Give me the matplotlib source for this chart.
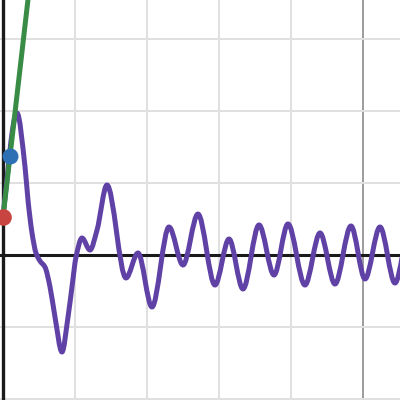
import numpy as np
import matplotlib
matplotlib.use("Agg")
import matplotlib.pyplot as plt
from matplotlib.path import Path
from matplotlib.patches import PathPatch

# ---- data (graph units) ----
curve_x = [0.000, 0.194, 0.306, 0.347, 0.403, 0.458, 0.514, 0.583, 0.653, 0.722,
           0.819, 0.903, 0.958, 1.014, 1.097, 1.208, 1.306, 1.444, 1.708, 1.875,
           2.069, 2.306, 2.500, 2.708, 2.944, 3.139, 3.333, 3.556, 3.764, 3.958,
           4.194, 4.403, 4.611, 4.833, 5.028, 5.236, 5.444, 5.653]
curve_y = [0.528, 1.972, 1.222, 0.764, 0.306, 0.028, -0.083, -0.167, -0.444, -0.861,
           -1.347, -0.861, -0.444, -0.028, 0.236, 0.069, 0.347, 0.972, -0.319, 0.028,
           -0.722, 0.389, -0.139, 0.569, -0.417, 0.222, -0.472, 0.417, -0.278, 0.431,
           -0.417, 0.306, -0.403, 0.403, -0.333, 0.389, -0.389, 0.389]

tangent_x = 0.0
tangent_y = 0.528
tangent_slope = 8.7
moving_x = 0.097
moving_y = 1.37

light_grid = [1, 2, 3, 4]
major_grid = [5]
h_grid = [-2, -1, 1, 2, 3]

PURPLE = "#6042a6"
GREEN = "#388c46"
BLUE = "#2d70b3"
RED = "#c74440"


def hermite_slopes(x, y, start_slope):
    x = np.asarray(x, float)
    y = np.asarray(y, float)
    h = np.diff(x)
    d = np.diff(y) / h
    m = np.zeros_like(y)
    for i in range(1, len(x) - 1):
        if d[i - 1] * d[i] <= 0:
            m[i] = 0.0
        else:
            w1 = 2 * h[i] + h[i - 1]
            w2 = h[i] + 2 * h[i - 1]
            m[i] = (w1 + w2) / (w1 / d[i - 1] + w2 / d[i])
    m[0] = start_slope
    m[-1] = 0.0
    return m


def smooth_path(x, y, m):
    verts = [(x[0], y[0])]
    codes = [Path.MOVETO]
    for i in range(len(x) - 1):
        h = x[i + 1] - x[i]
        verts += [(x[i] + h / 3, y[i] + m[i] * h / 3),
                  (x[i + 1] - h / 3, y[i + 1] - m[i + 1] * h / 3),
                  (x[i + 1], y[i + 1])]
        codes += [Path.CURVE4] * 3
    return Path(verts, codes)


fig = plt.figure(figsize=(4, 4), dpi=100)
ax = fig.add_axes([0, 0, 1, 1])
ax.set_xlim(-3 / 72, 397 / 72)
ax.set_ylim(-145 / 72, 255 / 72)
ax.axis("off")

for gx in light_grid:
    ax.axvline(gx, color="#e0e0e0", lw=1.4, zorder=1)
for gx in major_grid:
    ax.axvline(gx, color="#9c9c9c", lw=1.4, zorder=1)
for gy in h_grid:
    ax.axhline(gy, color="#e0e0e0", lw=1.4, zorder=1)

ax.axhline(0, color="#1a1a1a", lw=2.2, zorder=2)
ax.axvline(0, color="#1a1a1a", lw=2.4, zorder=2)

m = hermite_slopes(curve_x, curve_y, tangent_slope)
path = smooth_path(curve_x, curve_y, m)
ax.add_patch(PathPatch(path, fill=False, edgecolor=PURPLE, lw=3.6,
                       capstyle="round", joinstyle="round", zorder=3))

top = ax.get_ylim()[1]
lx = np.array([tangent_x, tangent_x + (top - tangent_y) / tangent_slope + 0.05])
ax.plot(lx, tangent_y + tangent_slope * (lx - tangent_x), color=GREEN, lw=3.6,
        solid_capstyle="butt", zorder=4)

ax.plot([tangent_x], [tangent_y], "o", color=RED, ms=12, mec="none", zorder=5)
ax.plot([moving_x], [moving_y], "o", color=BLUE, ms=11.5, mec="none", zorder=5)

fig.savefig("out.png", dpi=100)
